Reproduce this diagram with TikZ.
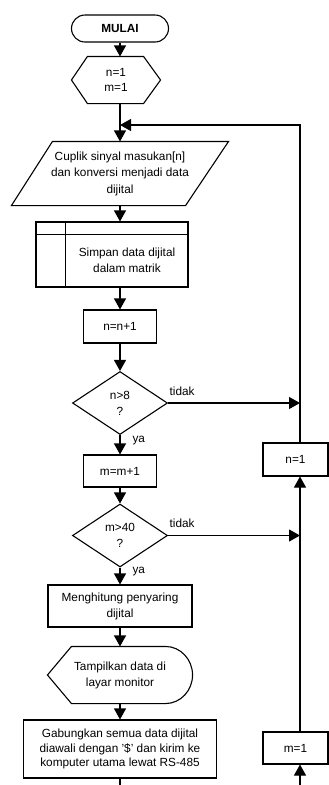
\documentclass[tikz,border=0pt]{standalone}
\usepackage{fontspec}
\setmainfont{Liberation Sans}
\usetikzlibrary{positioning,
				shapes.geometric,
				arrows.meta,
				calc}

\begin{document}
\begin{tikzpicture}[x=1pt, y=-1pt,
		font=\fontsize{11.8}{16}\selectfont,
		line width=1.1pt,
		box/.style={draw, rectangle, align=center, inner sep=2pt},
		shapebox/.style={rectangle, align=center, inner sep=2pt},
		decision/.style={draw, diamond, aspect=1.5, minimum width=95pt, minimum height=63pt, inner sep=0pt, align=center},
		flow/.style={-{Triangle[length=11pt, width=12pt]}},
		answer/.style={inner sep=0pt, anchor=base west}
		]
		\useasboundingbox (0,0) rectangle (329,785);
		\coordinate (axis) at (120,0);
		\coordinate (rail) at (300,125);
		% main column
		\node[draw, rounded corners=13.5pt, minimum width=97pt, minimum height=27pt, font=\fontsize{11.8}{16}\selectfont\bfseries] (mulai) at (120,28.5) {MULAI};
		\node[shapebox, minimum width=88pt, minimum height=46pt, font=\fontsize{11.8}{15}\selectfont] (init) at (116,80) {n=1\\m=1};
		\draw (init.west) -- ([xshift=16pt]init.north west) -- ([xshift=-17pt]init.north east) -- (init.east)
			-- ([xshift=-17pt]init.south east) -- ([xshift=16pt]init.south west) -- cycle;
		\node[shapebox, minimum width=216pt, minimum height=63pt, font=\fontsize{11.8}{16.5}\selectfont] (cuplik) at (120,173.5) {Cuplik sinyal masukan[n]\\dan konversi menjadi data\\dijital};
		\draw ([xshift=41pt]cuplik.north west) -- (cuplik.north east) -- ([xshift=-43pt]cuplik.south east) -- (cuplik.south west) -- cycle;
		\node[box, minimum width=152pt, minimum height=65pt] (simpan) at (112,254.5) {};
		\draw ($(simpan.north west)+(0,13)$) -- ($(simpan.north east)+(0,13)$);
		\draw ($(simpan.north west)+(30,0)$) -- ($(simpan.south west)+(30,0)$);
		\node[shapebox] (simpantext) at (127,260) {Simpan data dijital\\dalam matrik};
		\node[box, minimum width=73pt, minimum height=33pt] (tambahn) at (120,326.5) {n=n+1};
		\node[decision] (cekn) at (120,403) {n>8\\?};
		\node[box, minimum width=73pt, minimum height=32pt] (tambahm) at (120,471) {m=m+1};
		\node[decision] (cekm) at (120,535.5) {m>40\\?};
		\node[box, minimum width=144pt, minimum height=42pt] (hitung) at (120,606) {Menghitung penyaring\\dijital};
		\node[shapebox, minimum width=144pt, minimum height=56pt] (tampil) at (120,675) {Tampilkan data di\\layar monitor};
		\draw (tampil.west) -- ([xshift=24pt]tampil.north west) -- ([xshift=-27pt]tampil.north east)
			.. controls ([xshift=-12pt]tampil.north east) and ([yshift=15.5pt]tampil.east) .. (tampil.east)
			.. controls ([yshift=-15.5pt]tampil.east) and ([xshift=-12pt]tampil.south east) .. ([xshift=-27pt]tampil.south east)
			-- ([xshift=24pt]tampil.south west) -- cycle;
		\node[box, minimum width=193pt, minimum height=58pt, font=\fontsize{11.8}{14.5}\selectfont] (gabung) at (120,749) {Gabungkan semua data dijital\\diawali dengan '\$' dan kirim ke\\komputer utama lewat RS-485};
		% right column
		\node[box, minimum width=65pt, minimum height=33pt] (nsatu) at (295.5,459.5) {n=1};
		\node[box, minimum width=65pt, minimum height=32pt] (msatu) at (295.5,748) {m=1};
		\coordinate (ujung) at (120,785);
		\coordinate (masuk) at (300,785);
		% connectors
		\draw[flow] (mulai.south) -- (mulai.south |- init.north);
		\draw[flow] (init.south -| axis) -- (cuplik.north -| axis);
		\draw[flow] (rail |- nsatu.north) -- (rail) -- (rail -| axis);
		\draw[flow] (cuplik.south) -- (simpan.north -| axis);
		\draw[flow] (simpan.south -| axis) -- (tambahn.north);
		\draw[flow] (tambahn.south) -- (cekn.north);
		\draw[flow] (cekn.south) -- node[answer, pos=0, xshift=12pt, yshift=-7pt] {ya} (tambahm.north);
		\draw[flow] (cekn.east) -- node[answer, pos=0, xshift=1pt, yshift=8pt] {tidak} (rail |- cekn.east);
		\draw[flow] (tambahm.south) -- (cekm.north);
		\draw[flow] (cekm.south) -- node[answer, pos=0, xshift=12pt, yshift=-6pt] {ya} (hitung.north);
		\draw[flow] (cekm.east) -- node[answer, pos=0, xshift=1pt, yshift=8pt] {tidak} (rail |- cekm.east);
		\draw[flow] (hitung.south) -- (tampil.north);
		\draw[flow] (tampil.south) -- (gabung.north);
		\draw (gabung.south) -- (ujung);
		\draw[flow] (rail |- msatu.north) -- (rail |- nsatu.south);
		\draw[flow] (masuk) -- (rail |- msatu.south);
	\end{tikzpicture}
\end{document}
